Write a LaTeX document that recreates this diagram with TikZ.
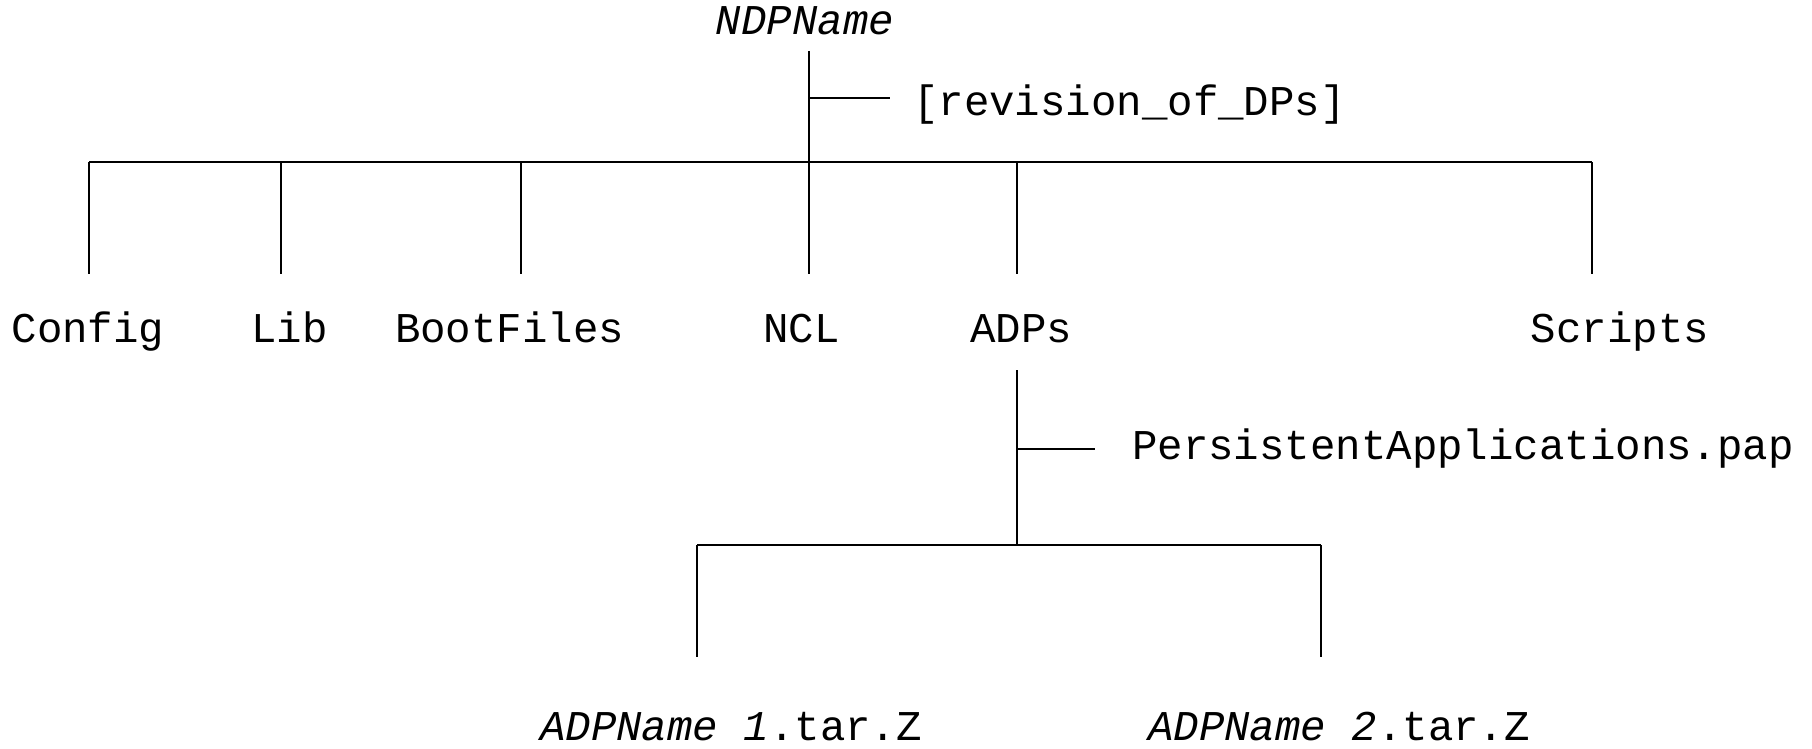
\documentclass[tikz,border=0pt]{standalone}
\usepackage{fontspec}
\setmonofont{Liberation Mono}
\begin{document}
\begin{tikzpicture}[x=1pt,y=-1pt,
  lbl/.style={font=\fontsize{42.4}{50}\selectfont\ttfamily, inner sep=0pt, anchor=base},
  ln/.style={line width=2pt}]
\useasboundingbox (0,0) rectangle (1812,749);
% root
\node[lbl] (root) at (805,35) {\itshape NDPName};
\coordinate (rtop) at (809,51);
\coordinate (rj) at (809,162);
\coordinate (revj) at (809,98);
\coordinate (revend) at (890,98);
\node[lbl, anchor=base west] (rev) at (913,116) {[revision\_of\_DPs]};
\draw[ln] (rtop) -- (rj);
\draw[ln] (revj) -- (revend);
% first level bar
\coordinate (b1) at (89,162);
\coordinate (b2) at (281,162);
\coordinate (b3) at (521,162);
\coordinate (b5) at (1017,162);
\coordinate (b6) at (1592,162);
\coordinate (t1) at (89,274);
\coordinate (t2) at (281,274);
\coordinate (t3) at (521,274);
\coordinate (t4) at (809,274);
\coordinate (t5) at (1017,274);
\coordinate (t6) at (1592,274);
\draw[ln] (b1) -- (b6);
\draw[ln] (b1) -- (t1);
\draw[ln] (b2) -- (t2);
\draw[ln] (b3) -- (t3);
\draw[ln] (rj) -- (t4);
\draw[ln] (b5) -- (t5);
\draw[ln] (b6) -- (t6);
\node[lbl] (config) at (88,342) {Config};
\node[lbl] (lib) at (289.5,342) {Lib};
\node[lbl] (boot) at (509.6,342) {BootFiles};
\node[lbl] (ncl) at (801.4,342) {NCL};
\node[lbl] (adps) at (1021,342) {ADPs};
\node[lbl] (scripts) at (1620,342) {Scripts};
% ADPs subtree
\coordinate (atop) at (1017,370);
\coordinate (aj) at (1017,545);
\coordinate (papj) at (1017,449);
\coordinate (papend) at (1095,449);
\node[lbl, anchor=base west] (pap) at (1132,459) {PersistentApplications.pap};
\draw[ln] (atop) -- (aj);
\draw[ln] (papj) -- (papend);
\coordinate (s1) at (697,545);
\coordinate (s2) at (1321,545);
\coordinate (u1) at (697,657);
\coordinate (u2) at (1321,657);
\draw[ln] (s1) -- (s2);
\draw[ln] (s1) -- (u1);
\draw[ln] (s2) -- (u2);
\node[lbl] (adp1) at (731,740) {\itshape ADPName 1\upshape .tar.Z};
\node[lbl] (adp2) at (1339,740) {\itshape ADPName 2\upshape .tar.Z};
\end{tikzpicture}
\end{document}
